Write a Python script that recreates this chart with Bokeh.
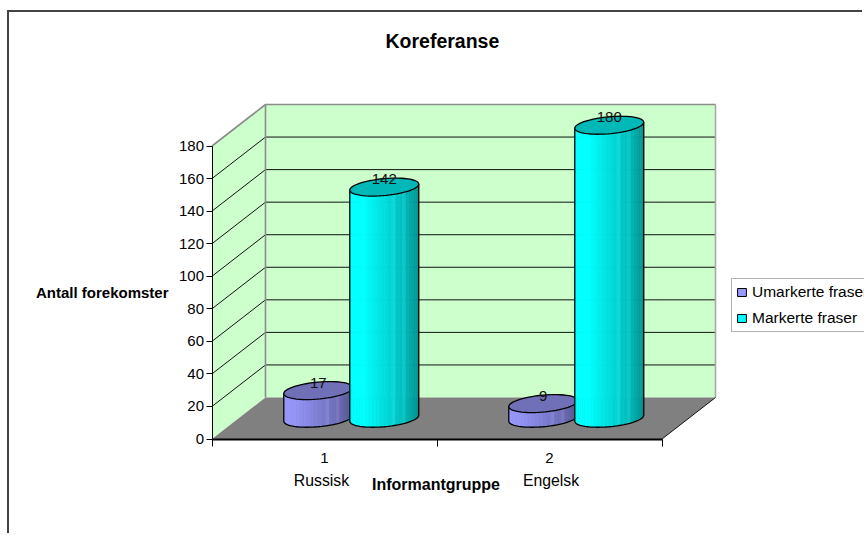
import numpy as np
from bokeh.plotting import figure
from bokeh.models import (Range1d, FixedTicker, Legend, LegendItem)
from bokeh.core.properties import value
from bokeh.embed import file_html
from bokeh.resources import INLINE

# ---- data
title = "Koreferanse"
y_title = "Antall forekomster"
x_title = "Informantgruppe"
groups = [1, 2]
group_names = ["Russisk", "Engelsk"]
umarkerte = [17, 9]
markerte = [142, 180]
y_ticks = [0, 20, 40, 60, 80, 100, 120, 140, 160, 180]
series_names = ["Umarkerte fraser", "Markerte fraser"]

# ---- layout
W, H = 855, 523
TOP = 52
AXIS_X, AXIS_Y = 202.5, 426.5   # where the two axes lie on the canvas
X_PX = 225.0            # pixels per category
Y_PX = 293.0 / 180.0    # pixels per value unit
DX = 53.5 / X_PX        # depth of the 3-D floor, in data units
DY = 41.5 / Y_PX
FONT = "Liberation Sans"

x0, x1 = groups[0] - 0.5, groups[-1] + 0.5
ymax = y_ticks[-1]

p = figure(width=W, height=H, output_backend="svg", toolbar_location=None,
           x_range=Range1d(x0 - AXIS_X / X_PX, x0 + (W - AXIS_X) / X_PX),
           y_range=Range1d(-(H - AXIS_Y) / Y_PX, (AXIS_Y - TOP) / Y_PX),
           min_border_left=0, min_border_right=0, min_border_top=TOP,
           min_border_bottom=0, outline_line_color=None,
           background_fill_color="white", border_fill_color="white")
p.styles = {"margin-left": "7px", "margin-top": "10px",
            "border-left": "2px solid #444444", "border-top": "2px solid #444444"}
p.grid.visible = False

p.title.text = title
p.title.text_font = FONT
p.title.text_font_size = "19.5px"
p.title.text_font_style = "bold"
p.title.text_color = "black"
p.title.align = "left"
p.title.offset = 376
p.title.standoff = 26

# axes
ya = p.yaxis[0]
ya.fixed_location = x0
ya.ticker = FixedTicker(ticks=y_ticks)
ya.bounds = (y_ticks[0], y_ticks[-1])
ya.major_tick_in = 0
ya.major_tick_out = 6
ya.minor_tick_line_color = None
ya.major_label_text_font = FONT
ya.major_label_text_font_size = "15px"
ya.major_label_text_color = "black"
ya.major_label_standoff = 2
ya.axis_line_color = "black"
ya.major_tick_line_color = "black"

xa = p.xaxis[0]
xa.fixed_location = 0
xa.ticker = FixedTicker(ticks=groups, minor_ticks=[g - 0.5 for g in groups] + [groups[-1] + 0.5])
xa.bounds = (x0, x1)
xa.major_tick_in = 0
xa.major_tick_out = 0
xa.minor_tick_in = 0
xa.minor_tick_out = 7
xa.minor_tick_line_color = "black"
xa.axis_line_color = "black"
xa.axis_line_width = 2
xa.major_label_text_font = FONT
xa.major_label_text_font_size = "15px"
xa.major_label_text_color = "black"
xa.major_label_standoff = 7

WALL, FLOOR, EDGE = "#CCFFCC", "#808080", "#8c8c8c"

# walls
p.patch([x0, x0 + DX, x0 + DX, x0], [0, DY, ymax + DY, ymax],
        fill_color=WALL, line_color=None)
p.patch([x0 + DX, x1 + DX, x1 + DX, x0 + DX], [DY, DY, ymax + DY, ymax + DY],
        fill_color=WALL, line_color=None)

# grid lines, on the left wall and on the back wall
for t in y_ticks[1:-1]:
    p.line([x0, x0 + DX, x1 + DX], [t, t + DY, t + DY], line_color="#111111", line_width=1)
# wall edges
p.line([x1 + DX, x1 + DX], [DY, ymax + DY], line_color="#a8a8a8", line_width=1.6)
p.line([x0, x0 + DX, x1 + DX], [ymax, ymax + DY, ymax + DY], line_color=EDGE, line_width=1.6)
p.line([x0 + DX, x0 + DX], [DY, ymax + DY], line_color=EDGE, line_width=1.6)

# floor
p.patch([x0, x1, x1 + DX, x0 + DX], [0, 0, DY, DY], fill_color=FLOOR, line_color=None)
p.line([x1, x1 + DX], [0, DY], line_color="#111111", line_width=1)


def mix(stops, f, lift=0):
    fs = [s[0] for s in stops]
    rgb = [min(255, np.interp(f, fs, [s[1][i] for s in stops]) + lift) for i in range(3)]
    return "#%02x%02x%02x" % tuple(int(round(c)) for c in rgb)


CYAN = dict(stops=[(0, (0, 255, 255)), (.22, (0, 255, 255)), (.55, (0, 216, 216)),
                   (.8, (0, 186, 186)), (1, (0, 144, 144))], top="#00b8b8", swatch="#00FFFF")
BLUE = dict(stops=[(0, (153, 153, 255)), (.22, (146, 146, 244)), (.55, (124, 124, 208)),
                   (.8, (108, 108, 182)), (1, (84, 84, 140))], top="#7070b8", swatch="#9999FF")

A, BX, BY = 32.5 / X_PX, 11.5 / X_PX, 9.0 / Y_PX
T0 = np.arctan2(BX, A)
OFFSET = 33.0 / X_PX
BANDS = (0.62, 0.79)


def ell(t):
    return A * np.cos(t) + BX * np.sin(t), BY * np.sin(t)


def cylinder(xc, v, style):
    yb, yt = DY / 2, DY / 2 + v
    ts = np.linspace(T0 + np.pi, T0 + 2 * np.pi, 29)
    ex, ey = ell(ts)
    fr = (ex - ex[0]) / (ex[-1] - ex[0])
    xs, ys, cols = [], [], []
    for i in range(len(ts) - 1):
        xs.append([xc + ex[i], xc + ex[i + 1], xc + ex[i + 1], xc + ex[i]])
        ys.append([yb + ey[i], yb + ey[i + 1], yt + ey[i + 1], yt + ey[i]])
        f = (fr[i] + fr[i + 1]) / 2
        lift = 12 if any(fr[i] <= b < fr[i + 1] for b in BANDS) else 0
        cols.append(mix(style["stops"], f, lift))
    p.patches(xs, ys, fill_color=cols, line_color=cols, line_width=0.6)
    # outline of the side and the front of the base
    ox = np.r_[xc + ex[0], xc + ex, xc + ex[-1]]
    oy = np.r_[yt + ey[0], yb + ey, yt + ey[-1]]
    p.line(ox, oy, line_color="black", line_width=1.3)
    # the top
    tt = np.linspace(0, 2 * np.pi, 60)
    tx, ty = ell(tt)
    p.patch(xc + tx, yt + ty, fill_color=style["top"], line_color="black", line_width=1.3)


for g, u, m in zip(groups, umarkerte, markerte):
    xc = g + DX / 2
    cylinder(xc - OFFSET, u, BLUE)
    cylinder(xc + OFFSET, m, CYAN)

# data labels
lab_x, lab_y, lab_t = [], [], []
for g, u, m in zip(groups, umarkerte, markerte):
    lab_x += [g + DX / 2 - OFFSET, g + DX / 2 + OFFSET]
    lab_y += [u + DY / 2, m + DY / 2]
    lab_t += [str(u), str(m)]
p.text(lab_x, lab_y, text=lab_t, text_font=value(FONT), text_font_size="15px",
       text_color="#111111", text_align="center", text_baseline="middle", y_offset=-8)

# group names, under the axis numbers
name_shift = [-3.0 / X_PX, 1.5 / X_PX]
p.text([g + s for g, s in zip(groups, name_shift)], [-41 / Y_PX] * len(groups), text=group_names,
       text_font=value(FONT), text_font_size="15.8px", text_color="black",
       text_align="center", text_baseline="middle")

# axis titles
p.text([(x0 + x1) / 2 - 1 / X_PX], [-45.5 / Y_PX], text=[x_title], text_font=value(FONT),
       text_font_style="bold", text_font_size="16px", text_color="black",
       text_align="center", text_baseline="middle")
p.text([x0 - 43.5 / X_PX], [ymax / 2], text=[y_title], text_font=value(FONT),
       text_font_style="bold", text_font_size="15px", text_color="black",
       text_align="right", text_baseline="middle")

# legend
r1 = p.quad(left=[np.nan], right=[np.nan], top=[np.nan], bottom=[np.nan], fill_color=BLUE["swatch"], line_color="black")
r2 = p.quad(left=[np.nan], right=[np.nan], top=[np.nan], bottom=[np.nan], fill_color=CYAN["swatch"], line_color="black")
leg = Legend(items=[LegendItem(label=series_names[0], renderers=[r1]),
                    LegendItem(label=series_names[1], renderers=[r2])],
             location=(722, 203), orientation="vertical",
             glyph_width=11, glyph_height=10, label_text_font=FONT,
             label_text_font_size="15.5px", label_text_color="black",
             border_line_color="#666666", border_line_width=1.5,
             background_fill_color="white", background_fill_alpha=1,
             padding=4, spacing=8, margin=0, label_standoff=5, label_height=16)
p.add_layout(leg)

open("out.html", "w").write(file_html(p, INLINE))
